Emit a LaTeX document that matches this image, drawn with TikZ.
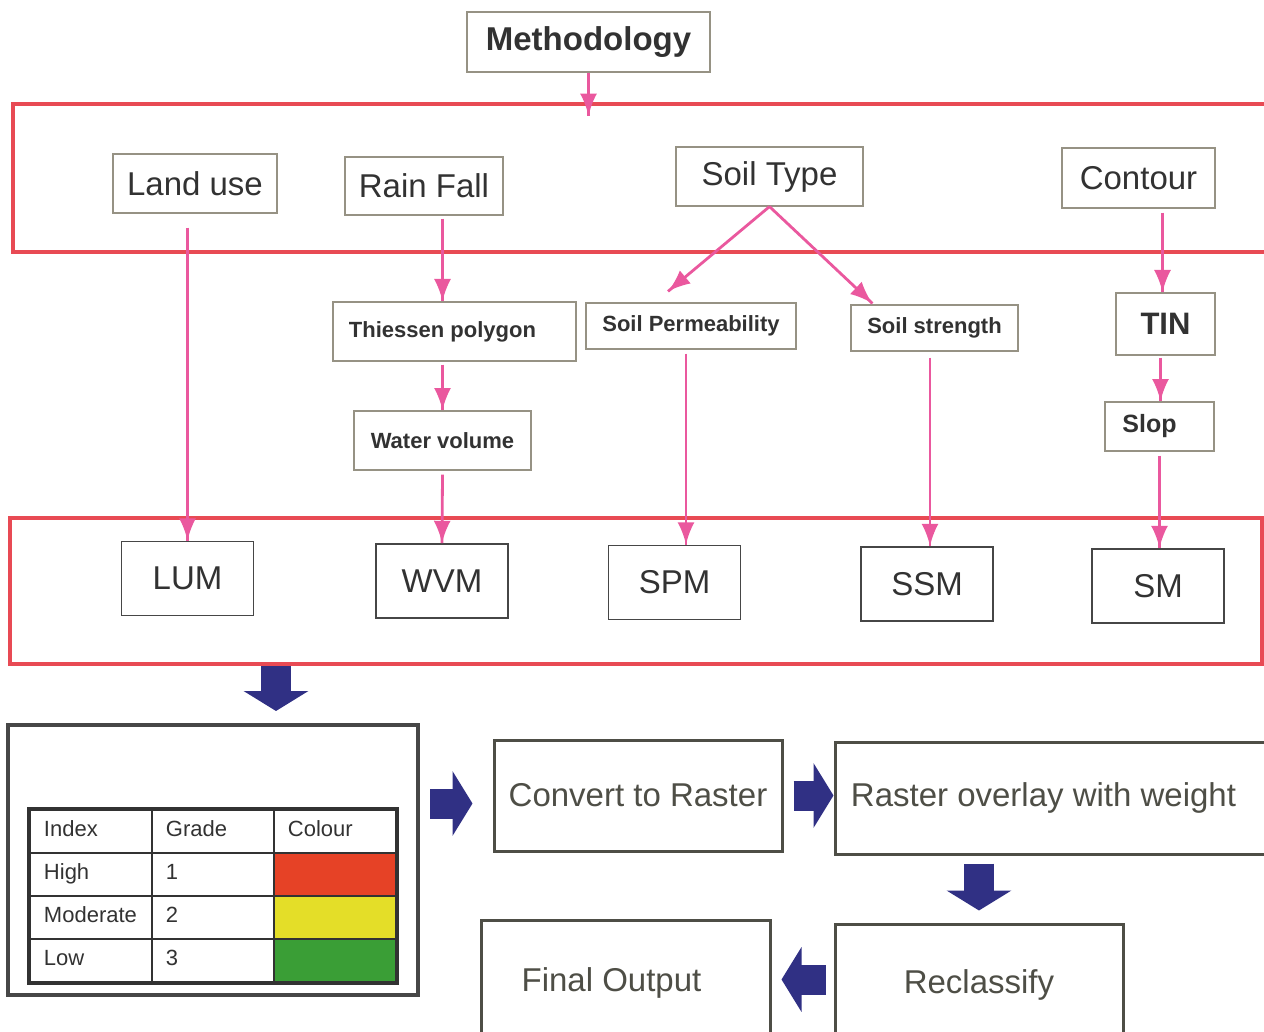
\documentclass[tikz,border=0pt]{standalone}
\usepackage{fontspec}
\setmainfont{Liberation Sans}
\usetikzlibrary{arrows.meta, decorations.markings, calc}
\definecolor{framered}{RGB}{232,74,84}
\definecolor{linkpink}{RGB}{234,88,158}
\definecolor{blocknavy}{RGB}{48,48,132}
\definecolor{boxgray}{RGB}{150,146,132}
\definecolor{inkgray}{RGB}{50,50,50}
\definecolor{procink}{RGB}{78,78,70}
\definecolor{gradered}{RGB}{230,66,38}
\definecolor{gradeyellow}{RGB}{228,222,40}
\definecolor{gradegreen}{RGB}{58,158,54}

\begin{document}
\begin{tikzpicture}[%
		x=0.5pt, y=-0.5pt,
		frame/.style={
			rectangle,
			draw=framered,
			line width=2pt,
			inner sep=0pt
		},
		inbox/.style={
			rectangle,
			draw=boxgray,
			line width=0.6pt,
			text=inkgray,
			inner sep=0pt,
			font=\fontsize{16.5}{19}\selectfont
		},
		subbox/.style={
			inbox,
			font=\fontsize{11}{13}\selectfont\bfseries
		},
		mapbox/.style={
			rectangle,
			draw=gray!55!black,
			line width=0.8pt,
			text=inkgray,
			minimum width=66pt,
			minimum height=37pt,
			inner sep=0pt,
			font=\fontsize{16.5}{19}\selectfont
		},
		procbox/.style={
			rectangle,
			draw=procink,
			line width=1.5pt,
			text=procink,
			inner sep=0pt,
			font=\fontsize{16.5}{19}\selectfont
		},
		legendbox/.style={
			rectangle,
			draw=inkgray!90,
			line width=2pt,
			inner sep=0pt
		},
		cell/.style={
			rectangle,
			draw=inkgray,
			line width=1pt,
			minimum width=61pt,
			minimum height=21.5pt,
			text width=47pt,
			text height=8pt,
			text depth=2.3pt,
			inner xsep=7pt,
			inner ysep=0pt,
			align=left,
			text=inkgray,
			font=\fontsize{11}{13}\selectfont
		},
		linkarrow/.style={
			line width=1.4pt,
			linkpink,
			decoration={markings,mark=at position 1 with {\arrow[scale=1.6,>=latex]{>}}},
			postaction={decorate}
		},
		blockarrow/.style={
			blocknavy,
			line width=15pt,
			-{Triangle[length=10pt, width=32pt]}
		}]

		\useasboundingbox (0,0) rectangle (1264,1032);

		% FRAMES

		\node (inputs) [frame, minimum width=633.5pt, minimum height=74pt] at (646.5,178) {};
		\node (mapframe) [frame, minimum width=626pt, minimum height=73pt] at (636,591) {};

		% INPUT LAYERS

		\node (method) [inbox, minimum width=121.5pt, minimum height=30pt, font=\fontsize{16.5}{19}\selectfont\bfseries] at (588.5,42) {Methodology};
		\node (landuse) [inbox, minimum width=82pt, minimum height=29.5pt] at (195,183.5) {Land use};
		\node (rainfall) [inbox, minimum width=79pt, minimum height=29pt] at (424,186) {Rain Fall};
		\node (soiltype) [inbox, minimum width=93.5pt, minimum height=29.5pt] at (769.5,176.5) {Soil Type};
		\node (contour) [inbox, minimum width=76.5pt, minimum height=30pt] at (1138.5,178) {Contour};

		% DERIVED LAYERS

		\node (thiessen) [subbox, minimum width=121.5pt, minimum height=29.5pt] at (454.5,331.5) {\hspace*{-12pt}Thiessen polygon};
		\node (watervol) [subbox, minimum width=88.5pt, minimum height=29.5pt] at (442.5,440.5) {Water volume};
		\node (soilperm) [subbox, minimum width=105pt, minimum height=23pt] at (691,326) {Soil Permeability};
		\node (soilstr) [subbox, minimum width=83.5pt, minimum height=23pt] at (934.5,328) {Soil strength};
		\node (tin) [subbox, minimum width=49.5pt, minimum height=31pt, font=\fontsize{15.5}{18}\selectfont\bfseries] at (1165.5,324) {TIN};
		\node (slop) [subbox, minimum width=54.5pt, minimum height=24.5pt, font=\fontsize{12.5}{15}\selectfont\bfseries] at (1159.5,426.5) {\hspace*{-10pt}Slop};

		% MAPS

		\node (lum) [mapbox] at (187.5,578.5) {LUM};
		\node (wvm) [mapbox] at (442,581) {WVM};
		\node (spm) [mapbox] at (674.5,582.5) {SPM};
		\node (ssm) [mapbox] at (927,584) {SSM};
		\node (sm) [mapbox] at (1158,586) {SM};

		% LEGEND

		\node (legend) [legendbox, minimum width=205pt, minimum height=135pt] at (213,860) {};
		\matrix (grades) [row sep=-1pt, column sep=-1pt, inner sep=0pt] at (213,895.5) {
			\node (hdIndex) [cell] {Index}; & \node (hdGrade) [cell] {Grade}; & \node (hdColour) [cell] {Colour}; \\
			\node (ixHigh) [cell] {High}; & \node (gdHigh) [cell] {1}; & \node (clHigh) [cell, fill=gradered] {}; \\
			\node (ixMod) [cell] {Moderate}; & \node (gdMod) [cell] {2}; & \node (clMod) [cell, fill=gradeyellow] {}; \\
			\node (ixLow) [cell] {Low}; & \node (gdLow) [cell] {3}; & \node (clLow) [cell, fill=gradegreen] {}; \\
		};
		\draw[inkgray, line width=1.6pt] (grades.north west) rectangle (grades.south east);

		% PROCESSING

		\node (convert) [procbox, minimum width=144pt, minimum height=55.5pt] at (638,795.5) {Convert to Raster};
		\node (overlay) [procbox, minimum width=222.5pt, minimum height=56pt] at (1057.5,798) {\hspace*{-14pt}Raster overlay with weight};
		\node (reclass) [procbox, minimum width=144pt, minimum height=60.5pt] at (979,984.5) {Reclassify};
		\node (final) [procbox, minimum width=144.5pt, minimum height=62.5pt] at (625.5,982.5) {\hspace*{-14pt}Final Output};

		% LINKS

		\draw[linkarrow] (method.south) -- ($(method.south |- inputs.north)+(0,14)$);
		\draw[linkarrow] ($(landuse.south -| lum.north)+(0,14)$) -- (lum.north);
		\draw[linkarrow] ($(rainfall.south -| watervol.north)+(0,3)$) -- (thiessen.north -| watervol.north);
		\draw[linkarrow] ($(thiessen.south -| watervol.north)+(0,3)$) -- (watervol.north);
		\draw[linkarrow] ($(watervol.south)+(0,4)$) -- (wvm.north);
		\draw[linkarrow] (soiltype.south) -- ($(soilperm.north)+(-23,-11)$);
		\draw[linkarrow] (soiltype.south) -- ($(soilstr.north west)+(22,-1)$);
		\draw[linkarrow] ($(soilperm.south)+(-5,4)$) -- ($(soilperm.south |- spm.north)+(-5,0)$);
		\draw[linkarrow] ($(soilstr.south -| ssm.north)+(3,6)$) -- ($(ssm.north)+(3,0)$);
		\draw[linkarrow] ($(tin.north |- contour.south)+(-3,4)$) -- ($(tin.north)+(-3,0)$);
		\draw[linkarrow] ($(tin.south -| slop.north)+(1,2)$) -- ($(slop.north)+(1,0)$);
		\draw[linkarrow] ($(slop.south)+(0,4)$) -- (slop.south |- sm.north);

		% BLOCK ARROWS

		\coordinate (dropTop) at ($(mapframe.south)+(-360,0)$);
		\draw[blockarrow, shorten >=6pt] (dropTop) -- (dropTop |- legend.north);
		\draw[blockarrow, shorten <=5pt, shorten >=10pt] ($(legend.east |- convert.west)+(0,8)$) -- ($(convert.west)+(0,8)$);
		\draw[blockarrow, shorten <=5pt] (convert.east) -- (convert.east -| overlay.west);
		\draw[blockarrow, shorten <=4pt, shorten >=6pt] (overlay.south -| reclass.north) -- (reclass.north);
		\draw[blockarrow, shorten <=4pt, shorten >=5pt] ($(reclass.west)+(0,-5)$) -- ($(reclass.west -| final.east)+(0,-5)$);
\end{tikzpicture}
\end{document}
